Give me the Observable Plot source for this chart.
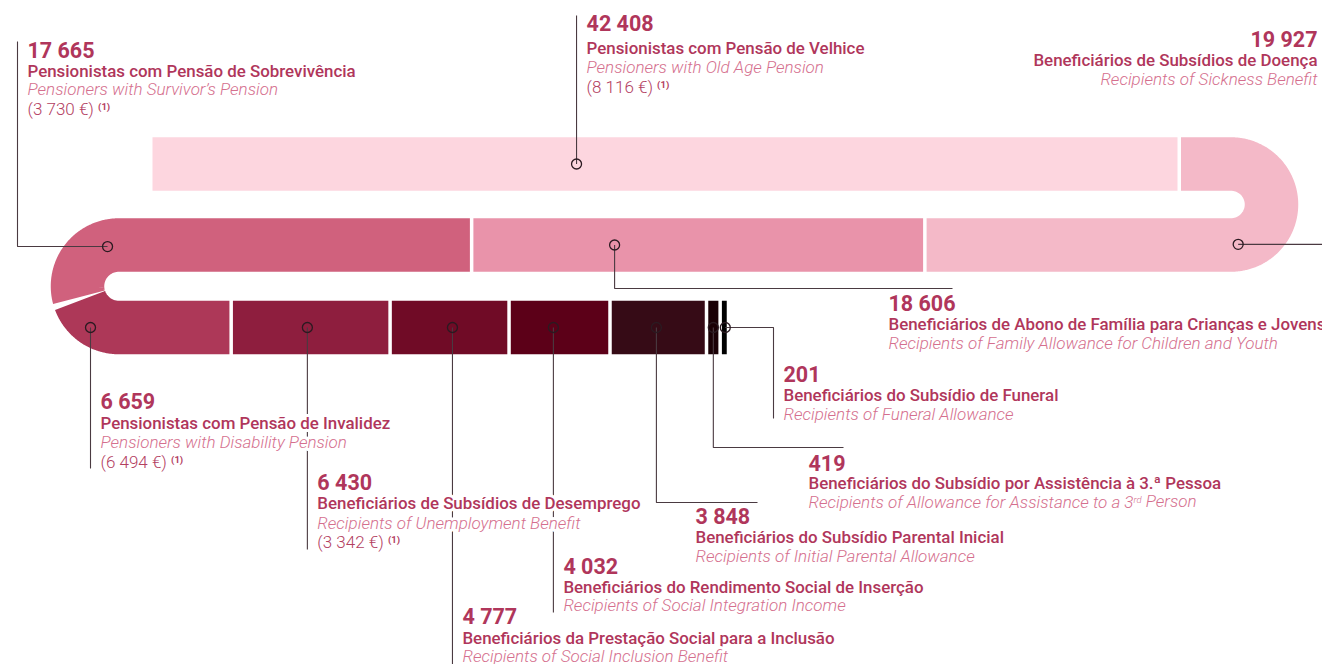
<!DOCTYPE html>
<html>
<head>
<meta charset="utf-8">
<script src="https://cdn.jsdelivr.net/npm/d3@7"></script>
<script src="https://cdn.jsdelivr.net/npm/@observablehq/plot@0.6"></script>
<style>
  html, body { margin: 0; padding: 0; background: #ffffff; }
  #chart svg { display: block; font-family: Roboto, "Noto Sans", sans-serif; }
</style>
</head>
<body>
<div id="chart"></div>
<script>
// ---------------- DATA ----------------
const keys = ["velhice", "doenca", "abono", "sobrevivencia", "invalidez", "desemprego",
              "inclusao", "rsi", "parental", "assistencia", "funeral"];
const values = [42408, 19927, 18606, 17665, 6659, 6430, 4777, 4032, 3848, 419, 201];
const titlesPT = [
  "Pensionistas com Pensão de Velhice",
  "Beneficiários de Subsídios de Doença",
  "Beneficiários de Abono de Família para Crianças e Jovens",
  "Pensionistas com Pensão de Sobrevivência",
  "Pensionistas com Pensão de Invalidez",
  "Beneficiários de Subsídios de Desemprego",
  "Beneficiários da Prestação Social para a Inclusão",
  "Beneficiários do Rendimento Social de Inserção",
  "Beneficiários do Subsídio Parental Inicial",
  "Beneficiários do Subsídio por Assistência à 3.ª Pessoa",
  "Beneficiários do Subsídio de Funeral"
];
const titlesEN = [
  "Pensioners with Old Age Pension",
  "Recipients of Sickness Benefit",
  "Recipients of Family Allowance for Children and Youth",
  "Pensioners with Survivor’s Pension",
  "Pensioners with Disability Pension",
  "Recipients of Unemployment Benefit",
  "Recipients of Social Inclusion Benefit",
  "Recipients of Social Integration Income",
  "Recipients of Initial Parental Allowance",
  "Recipients of Allowance for Assistance to a 3^rd^ Person",
  "Recipients of Funeral Allowance"
];
const avgPension = [8116, null, null, 3730, 6494, 3342, null, null, null, null, null];
const noteMark = "(1)";

// ---------------- STYLE / LAYOUT ----------------
const palette = ["#fdd6df", "#f4b9c8", "#e993aa", "#d0617d", "#ad3858", "#8e1e3e",
                 "#700b26", "#5c0018", "#360b16", "#1a0005", "#000000"];
const W = 1322, H = 664;
const band = 53.5, gap = 3.5;
const geom = {x0: 152, yTop: 163.5, yMid: 244.5, yBot: 327, cxR: 1230.5, cxL: 118.25};
const lengthScale = d3.scaleLinear([0, 100000], [0, 2417]); // persons -> px along the track

// marker position (fraction along segment), leader route, label placement
const layout = {
  velhice:       {f: 0.4137, route: "v",  y: 15,             anchor: "start", nb: 30,  tb: 53,  eb: 72,  cb: 92},
  doenca:        {f: 0.353,  route: "h",  x: 1322, lx: 1317, anchor: "end",   nb: 46,  tb: 65,  eb: 84},
  abono:         {f: 0.686,  route: "vh", y: 288, x: 952, lx: 888, anchor: "start", nb: 310, tb: 329, eb: 348},
  sobrevivencia: {f: 0.849,  route: "hv", x: 17, y: 41, lx: 27, anchor: "start", nb: 57, tb: 76, eb: 94.5, cb: 114},
  invalidez:     {f: 0.119,  route: "v",  y: 468, row: "yBot", anchor: "start", nb: 408, tb: 428, eb: 447, cb: 467},
  desemprego:    {f: 0.479,  route: "v",  y: 549,            anchor: "start", nb: 489, tb: 508, eb: 528, cb: 547},
  inclusao:      {f: 0.525,  route: "v",  y: 664,            anchor: "start", nb: 623, tb: 643, eb: 661},
  rsi:           {f: 0.437,  route: "v",  y: 612,            anchor: "start", nb: 573, tb: 592, eb: 610},
  parental:      {f: 0.48,   route: "vh", y: 502, x: 757, lx: 695, anchor: "start", nb: 523, tb: 542, eb: 561},
  assistencia:   {f: 0.5,    route: "vh", y: 447, x: 843, lx: 808, anchor: "start", nb: 470, tb: 488, eb: 507},
  funeral:       {f: 0.7,    route: "hv", x: 773, y: 418, lx: 783, anchor: "start", nb: 381, tb: 400, eb: 419}
};

// ---------------- TRACK GEOMETRY ----------------
const rR = (geom.yMid - geom.yTop) / 2, rL = (geom.yBot - geom.yMid) / 2;
const cyR = (geom.yTop + geom.yMid) / 2, cyL = (geom.yMid + geom.yBot) / 2;
const L1 = geom.cxR - geom.x0, A1 = Math.PI * rR, L2 = geom.cxR - geom.cxL, A2 = Math.PI * rL;
function at(s) {
  if (s <= L1) return {x: geom.x0 + s, y: geom.yTop};
  s -= L1;
  if (s <= A1) { const t = s / rR; return {x: geom.cxR + rR * Math.sin(t), y: cyR - rR * Math.cos(t)}; }
  s -= A1;
  if (s <= L2) return {x: geom.cxR - s, y: geom.yMid};
  s -= L2;
  if (s <= A2) { const t = s / rL; return {x: geom.cxL - rL * Math.sin(t), y: cyL - rL * Math.cos(t)}; }
  s -= A2;
  return {x: geom.cxL + s, y: geom.yBot};
}

const fmt = v => d3.format(",")(v).replace(/,/g, " ");
let cursor = 0;
const segments = keys.map((key, i) => {
  const len = lengthScale(values[i]);
  const s0 = cursor, s1 = cursor + len;
  cursor = s1 + gap;
  const pts = [];
  for (let s = s0; s < s1; s += 1) pts.push(at(s));
  pts.push(at(s1));
  return {key, i, s0, s1, len, pts, color: palette[i]};
});

const markers = [], leaders = [], textLines = [];
segments.forEach(seg => {
  const L = layout[seg.key];
  const p0 = at(seg.s0 + L.f * seg.len);
  const m = L.row ? {x: p0.x, y: geom[L.row]} : p0;
  markers.push({key: seg.key, x: m.x, y: m.y});
  let path;
  if (L.route === "v") path = [m, {x: m.x, y: L.y}];
  else if (L.route === "h") path = [m, {x: L.x, y: m.y}];
  else if (L.route === "vh") path = [m, {x: m.x, y: L.y}, {x: L.x, y: L.y}];
  else path = [m, {x: L.x, y: m.y}, {x: L.x, y: L.y}];
  path.forEach(p => leaders.push({key: seg.key, x: p.x, y: p.y}));
  const lx = L.lx != null ? L.lx : m.x + 10;
  const i = seg.i;
  textLines.push({kind: "num", anchor: L.anchor, x: lx, y: L.nb, text: fmt(values[i])});
  textLines.push({kind: "pt", anchor: L.anchor, x: lx, y: L.tb, text: titlesPT[i]});
  textLines.push({kind: "en", anchor: L.anchor, x: lx, y: L.eb, text: titlesEN[i]});
  if (avgPension[i] != null && L.cb != null)
    textLines.push({kind: "eur", anchor: L.anchor, x: lx, y: L.cb, text: `(${fmt(avgPension[i])} €) ^${noteMark}^`});
});

const textStyles = {
  num: {fontSize: 21.5, fontWeight: 700, fill: "#b0365b"},
  pt:  {fontSize: 16.9, fontWeight: 500, fill: "#b0365b"},
  en:  {fontSize: 17,   fontWeight: 300, fontStyle: "italic", fill: "#d56f8e"},
  eur: {fontSize: 17,   fontWeight: 300, fill: "#b3405f"}
};

const textMarks = [];
for (const kind of Object.keys(textStyles)) {
  for (const anchor of ["start", "end"]) {
    const data = textLines.filter(d => d.kind === kind && d.anchor === anchor);
    if (!data.length) continue;
    textMarks.push(Plot.text(data, {
      x: "x", y: "y", text: "text", textAnchor: anchor, lineAnchor: "bottom",
      stroke: "white", strokeWidth: 6, paintOrder: "stroke", strokeLinejoin: "round",
      ...textStyles[kind]
    }));
  }
}

const svg = Plot.plot({
  width: W, height: H, margin: 0,
  x: {domain: [0, W], range: [0, W], axis: null},
  y: {domain: [0, H], range: [0, H], axis: null},
  marks: [
    ...segments.map(seg => Plot.line(seg.pts, {
      x: "x", y: "y", stroke: seg.color, strokeWidth: band,
      strokeLinecap: "butt", strokeLinejoin: "round"
    })),
    Plot.line(leaders, {x: "x", y: "y", z: "key", stroke: "#4a3a41", strokeWidth: 1.1,
      strokeLinecap: "butt", strokeLinejoin: "miter"}),
    Plot.dot(markers, {x: "x", y: "y", r: 5, fill: "none", stroke: "#2b1a21", strokeWidth: 1.3}),
    ...textMarks
  ]
});

// superscripts marked with ^...^ ; halo drawn by a separate copy behind the text
d3.select(svg).selectAll("text").each(function () {
  const t = this.textContent;
  if (!t.includes("^")) return;
  const parts = t.split("^");
  const sel = d3.select(this);
  sel.text(null);
  let raised = false;
  parts.forEach((p, k) => {
    if (!p) return;
    const ts = sel.append("tspan").text(p);
    if (k % 2 === 1) {
      ts.attr("font-size", "0.56em").attr("dy", "-0.45em");
      if (p === noteMark) ts.attr("font-weight", 700);
      raised = true;
    } else if (raised) {
      ts.attr("dy", "0.25em");
      raised = false;
    }
  });
  const halo = this.cloneNode(true);
  halo.setAttribute("fill", "none");
  this.parentNode.insertBefore(halo, this);
  this.setAttribute("stroke", "none");
});

document.getElementById("chart").appendChild(svg);
</script>
</body>
</html>
